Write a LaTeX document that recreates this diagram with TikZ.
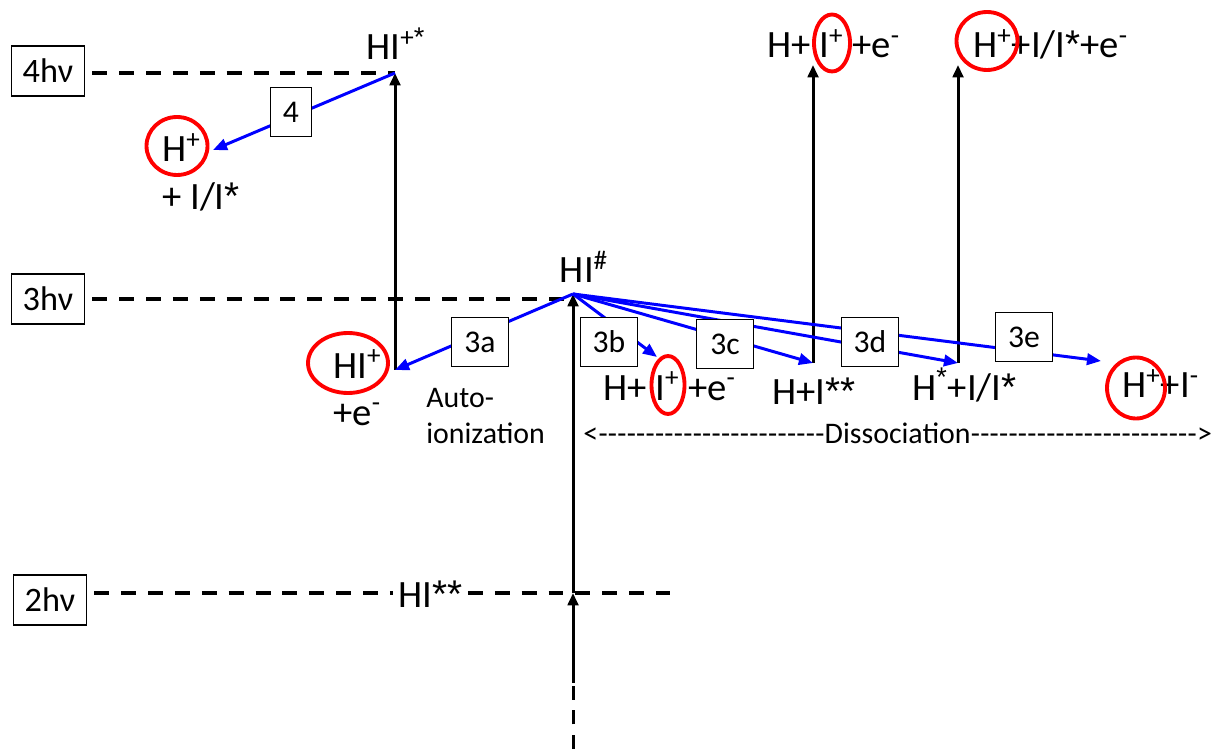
\documentclass[tikz,border=0pt]{standalone}
\usepackage{fontspec}
\setmainfont{Carlito}
\newfontfamily\starfont{Liberation Sans}
\newcommand{\astr}{{\starfont*}}
\usetikzlibrary{positioning,arrows.meta,shapes.geometric}

\begin{document}
\begin{tikzpicture}[x=0.02cm,y=-0.02cm,
  lvl/.style={draw,line width=0.6pt,minimum width=1.47cm,minimum height=1cm,inner sep=0pt,font=\fontsize{19.5}{22}\selectfont},
  tag/.style={draw,fill=white,line width=0.6pt,minimum width=1.13cm,minimum height=0.98cm,inner sep=0pt,font=\fontsize{18}{21}\selectfont},
  spc/.style={inner sep=0pt,font=\fontsize{22}{26}\selectfont},
  note/.style={inner sep=0pt,font=\fontsize{17}{20.4}\selectfont},
  ring/.style={draw=red,line width=2.2pt,ellipse,inner sep=0pt},
  ladder/.style={dash pattern=on 8.5pt off 6.8pt,line width=2.2pt},
  pump/.style={line width=1.7pt,-{Triangle[length=7pt,width=6pt]}},
  chan/.style={blue,line width=1.7pt,-{Triangle[length=8pt,width=6.5pt]}}]
\useasboundingbox (0,0) rectangle (1216,749);

\node[lvl] (l4) at (48,71) {4hν};
\node[lvl] (l3) at (48,299) {3hν};
\node[lvl] (l2) at (50,600) {2hν};

\coordinate (top4) at (395,73);
\coordinate (hip) at (395,370);
\coordinate (apex) at (573,294);
\coordinate (e2) at (573,593);
\coordinate (cut) at (573,683);
\coordinate (bot) at (573,749);
\coordinate (r2) at (670,593);
\coordinate (hp) at (213,150);
\coordinate (ib) at (657,357);
\coordinate (ic) at (813,363);
\coordinate (id) at (958,363);
\coordinate (ie) at (1101,361);
\coordinate (tc) at (813,65);
\coordinate (td) at (958,65);

\node[spc,anchor=base] (hi4) at (396,60) {HI\textsuperscript{+\astr}};
\node[spc,anchor=base west] (hplus) at (162,162) {H\textsuperscript{+}};
\node[spc,anchor=base west] (rest4) at (162,210) {+ I/I\astr};
\node[spc,anchor=base] (hish) at (584,283) {HI\textsuperscript{\#}};
\node[spc,anchor=base west] (hion) at (333,378) {HI\textsuperscript{+}};
\node[spc,anchor=base west] (elec) at (333,425) {+e\textsuperscript{-}};
\node[note,anchor=north west,align=left] (auto) at (426,388) {Auto-\\ionization};
\node[spc,anchor=base west] (prb) at (603,400) {H+ I\textsuperscript{+} +e\textsuperscript{-}};
\node[spc,anchor=base west] (prc) at (772,404) {H+I\astr\astr};
\node[spc,anchor=base west] (prd) at (912,400) {H\textsuperscript{\astr}+I/I\astr};
\node[spc,anchor=base west] (pre) at (1122,398) {H\textsuperscript{+}+I\textsuperscript{-}};
\node[spc,anchor=base west] (ptc) at (767,58) {H+ I\textsuperscript{+} +e\textsuperscript{-}};
\node[spc,anchor=base west] (ptd) at (973,58) {H\textsuperscript{+}+I/I\astr+e\textsuperscript{-}};
\node[spc,anchor=base west] (hi2) at (398,607) {HI\astr\astr};
\node[note,anchor=base west] (dis) at (583,443) {\makebox[12.58cm]{<\xleaders\hbox{-}\hfill Dissociation\xleaders\hbox{-}\hfill>}};

\node[ring,minimum width=1.22cm,minimum height=1.16cm] (c1) at (177,146) {};
\node[ring,minimum width=1.6cm,minimum height=1.2cm] (c2) at (348,363) {};
\node[ring,minimum width=0.66cm,minimum height=1.16cm] (c3) at (668,385) {};
\node[ring,minimum width=1.16cm,minimum height=1.22cm] (c4) at (1136,388) {};
\node[ring,minimum width=0.72cm,minimum height=1.14cm] (c5) at (832,43) {};
\node[ring,minimum width=1.22cm,minimum height=1.16cm] (c6) at (987,41) {};

\draw[ladder,shorten <=4pt] (l4.east |- top4) -- (top4);
\draw[ladder,shorten <=4pt] (l3.east) -- (l3.east -| apex);
\draw[ladder,shorten <=4pt,shorten >=3pt] (l2.east |- e2) -- (hi2.west |- e2);
\draw[ladder,shorten <=3pt] (hi2.east |- e2) -- (r2);

\draw[pump] (hip) -- (top4);
\draw[pump] (cut) -- (e2);
\draw[pump] (e2) -- (apex);
\draw[line width=1.7pt,dash pattern=on 8pt off 6pt] (bot) -- (cut);
\draw[pump] (ic) -- (tc);
\draw[pump] (id) -- (td);

\draw[chan] (top4) -- (hp);
\draw[chan] (apex) -- (hip);
\draw[chan] (apex) -- (ib);
\draw[chan] (apex) -- (ic);
\draw[chan] (apex) -- (id);
\draw[chan] (apex) -- (ie);

\node[tag,minimum width=0.82cm] (t4) at (291,112) {4};
\node[tag] (t3a) at (480,342) {3a};
\node[tag] (t3b) at (609,342) {3b};
\node[tag] (t3c) at (725,344) {3c};
\node[tag] (t3d) at (870,342) {3d};
\node[tag] (t3e) at (1024,337) {3e};
\end{tikzpicture}
\end{document}
